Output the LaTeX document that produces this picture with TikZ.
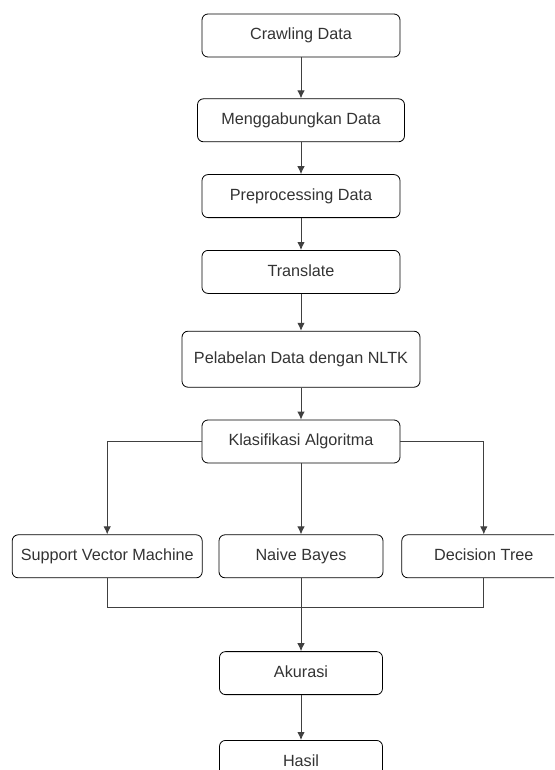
\documentclass[tikz,border=0pt]{standalone}
\usepackage{fontspec}
\setmainfont{Liberation Sans}
\usepackage{tikz}
\usetikzlibrary{positioning}
\usetikzlibrary{arrows.meta}

\definecolor{boxtext}{HTML}{333333}
\definecolor{flowline}{HTML}{404040}

\tikzset{
    stepbox/.style={draw=black, line width=0.8pt, rounded corners=6pt,
        minimum width=198pt, minimum height=43pt, inner sep=0pt,
        text=boxtext, font=\fontsize{16.2}{19}\selectfont,
        text height=11.5pt, text depth=3pt},
    flow/.style={draw=flowline, line width=1pt},
    flowarrow/.style={flow, -{Latex[length=8pt, width=7.5pt]}}
}

\begin{document}
\begin{tikzpicture}[x=1pt, y=-1pt]
    \useasboundingbox (0,0) rectangle (554,770);
    \clip (0,0) rectangle (554,770);

    \node[stepbox] (crawl) at (301,35.5) {Crawling Data};
    \node[stepbox, minimum width=207pt, below=41pt of crawl] (merge) {Menggabungkan Data};
    \node[stepbox, below=32pt of merge] (prep) {Preprocessing Data};
    \node[stepbox, below=32pt of prep] (trans) {Translate};
    \node[stepbox, minimum width=238pt, minimum height=56pt, below=37pt of trans] (label) {Pelabelan Data dengan NLTK};
    \node[stepbox, below=32pt of label] (klas) {Klasifikasi Algoritma};

    \node[stepbox, minimum width=164pt, below=71pt of klas] (nb) {Naive Bayes};
    \node[stepbox, minimum width=190pt, left=16pt of nb] (svm) {Support Vector Machine};
    \node[stepbox, minimum width=164pt, right=18pt of nb] (dt) {Decision Tree};

    \node[stepbox, minimum width=163pt, below=73pt of nb] (acc) {Akurasi};
    \node[stepbox, minimum width=163pt, below=45pt of acc] (hasil) {Hasil};

    \coordinate (join) at (nb.south |- 0,607);

    \draw[flowarrow] (crawl) -- (merge);
    \draw[flowarrow] (merge) -- (prep);
    \draw[flowarrow] (prep) -- (trans);
    \draw[flowarrow] (trans) -- (label);
    \draw[flowarrow] (label) -- (klas);

    \draw[flowarrow] (klas.west) -| (svm.north);
    \draw[flowarrow] (klas) -- (nb);
    \draw[flowarrow] (klas.east) -| (dt.north);

    \draw[flow] (svm.south) |- (join);
    \draw[flow] (dt.south) |- (join);
    \draw[flowarrow] (nb) -- (acc);
    \draw[flowarrow] (acc) -- (hasil);
\end{tikzpicture}
\end{document}
